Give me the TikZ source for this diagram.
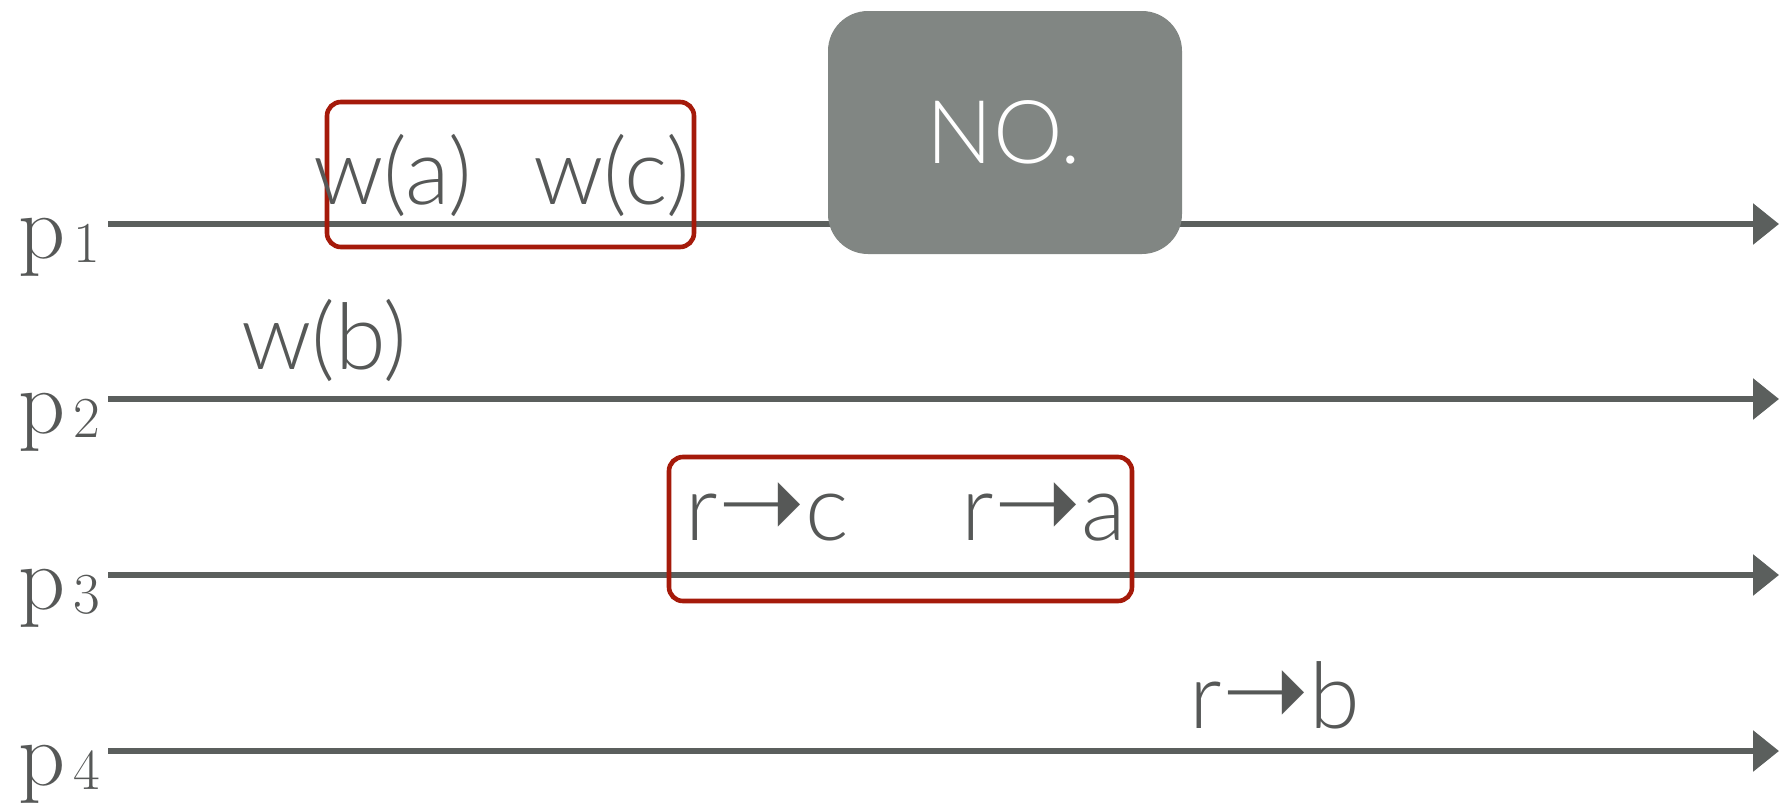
\documentclass[tikz,border=0pt]{standalone}
\usepackage{fontspec}
\usetikzlibrary{arrows.meta}
\newfontfamily\thinsans{Lato Light}
\newfontfamily\arrowfont{DejaVu Sans Bold}
\definecolor{ink}{RGB}{86,88,87}
\definecolor{linegray}{RGB}{91,95,93}
\definecolor{boxgray}{RGB}{129,134,131}
\definecolor{markred}{RGB}{165,26,10}
\newcommand{\ra}{\raisebox{1.5pt}{\arrowfont\fontsize{52}{52}\selectfont ➝}}
\tikzset{
  timeline/.style={line width=3pt, draw=linegray, -{Triangle[length=13pt,width=20pt]}},
  proc/.style={anchor=base west, inner sep=0pt, text=ink, font=\fontsize{46}{46}\selectfont},
  event/.style={anchor=base, inner sep=0pt, text=ink, font=\thinsans\fontsize{46}{46}\selectfont},
  group/.style={draw=markred, line width=2.3pt, rounded corners=7pt, inner sep=0pt},
  verdict/.style={fill=boxgray, rounded corners=20pt, inner sep=0pt}
}
\begin{document}
\begin{tikzpicture}[x=0.5pt,y=-0.5pt]
\useasboundingbox (0,0) rectangle (1779,804);
% process timelines
\foreach \i/\y in {1/224,2/399,3/575,4/751}{
  \coordinate (s\i) at (108,\y);
  \coordinate (e\i) at (1779,\y);
  \draw[timeline] (s\i) -- (e\i);
  \node[proc] (p\i) at (18,\y+34) {p\kern4pt\raisebox{-2pt}{\fontsize{29}{29}\selectfont\i}};
}
% verdict badge
\node[verdict, minimum width=177pt, minimum height=121.5pt] (no) at (1005,132.5) {};
\node[anchor=base, inner sep=0pt, text=white, font=\thinsans\fontsize{44}{44}\selectfont] (notext) at (1004,163) {NO.};
% grouped operations
\node[group, minimum width=183.5pt, minimum height=72.5pt] (g1) at (510.5,174.5) {};
\node[group, minimum width=231.5pt, minimum height=72pt] (g2) at (900.5,529) {};
% events
\node[event] (wa) at (393,204) {w(a)};
\node[event] (wc) at (612,204) {w(c)};
\node[event] (wb) at (324,369) {w(b)};
\node[event] (rc) at (767,540) {r\ra c};
\node[event] (raa) at (1044,540) {r\ra a};
\node[event] (rb) at (1275,728) {r\ra b};
\end{tikzpicture}
\end{document}
